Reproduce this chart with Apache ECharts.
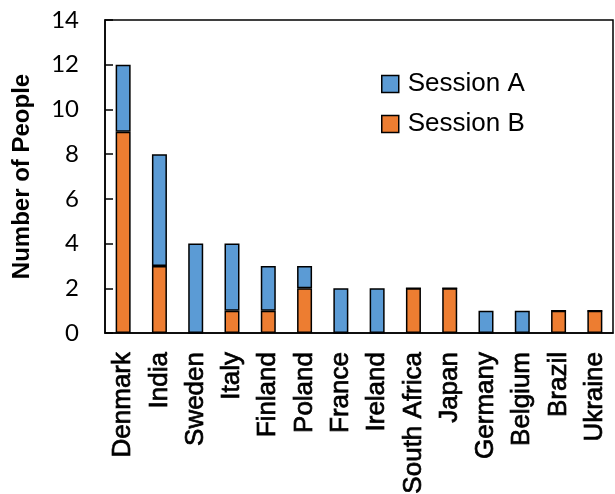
<!DOCTYPE html>
<html><head><meta charset="utf-8">
<script src="https://cdn.jsdelivr.net/npm/echarts@6/dist/echarts.min.js"></script>
<style>html,body{margin:0;padding:0;background:#fff}#c{width:615px;height:494px}</style>
</head><body><div id="c"></div>
<script>
const categories = ['Denmark','India','Sweden','Italy','Finland','Poland','France','Ireland','South Africa','Japan','Germany','Belgium','Brazil','Ukraine'];
const sessionB = [9,3,0,1,1,2,0,0,2,2,0,0,1,1];
const sessionA = [3,5,4,3,2,1,2,2,0,0,1,1,0,0];
const yTicks = [0,2,4,6,8,10,12,14];

const chart = echarts.init(document.getElementById('c'), null, {renderer:'canvas'});
const barStyle = c => ({color:c, borderColor:'#000', borderWidth:1.5});
chart.setOption({
  animation:false,
  grid:{left:105,right:2,top:20,bottom:161,outerBoundsMode:'none',containLabel:false,show:true,borderColor:'#000',borderWidth:1.5,backgroundColor:'transparent'},
  legend:{
    orient:'vertical', left:376, top:66, itemGap:14, itemWidth:17, itemHeight:17,
    data:['Session A','Session B'],
    textStyle:{fontFamily:'Liberation Sans, Arial', fontSize:26, lineHeight:26, color:'#000', padding:[0,0,0,4]},
    icon:'rect', itemStyle:{borderColor:'#000', borderWidth:1.5}
  },
  xAxis:{
    type:'category', data:categories,
    axisLine:{lineStyle:{color:'#000',width:1.5}},
    axisTick:{show:false},
    axisLabel:{rotate:90, interval:0, margin:19, color:'#000', fontFamily:'Liberation Sans, Arial', fontSize:26,
      textBorderColor:'#000', textBorderWidth:0.7}
  },
  yAxis:{
    type:'value', min:0, max:14, interval:2,
    name:'Number of People', nameLocation:'middle', nameGap:71,
    nameTextStyle:{fontFamily:'Liberation Sans, Arial', fontSize:24, fontWeight:'bold', color:'#000'},
    axisLine:{show:true,lineStyle:{color:'#000',width:1.5}},
    axisTick:{show:true,inside:true,length:8,lineStyle:{color:'#000',width:1.5}},
    splitLine:{show:false},
    axisLabel:{margin:26, color:'#000', fontFamily:'Lato', fontSize:24,
      formatter:v=>yTicks.includes(v)?String(v):''}
  },
  series:[
    {name:'Session B', type:'bar', stack:'s', data:sessionB, barWidth:15, itemStyle:barStyle('#ED7D31')},
    {name:'Session A', type:'bar', stack:'s', data:sessionA, barWidth:15, itemStyle:barStyle('#5B9BD5')}
  ]
});
</script></body></html>
